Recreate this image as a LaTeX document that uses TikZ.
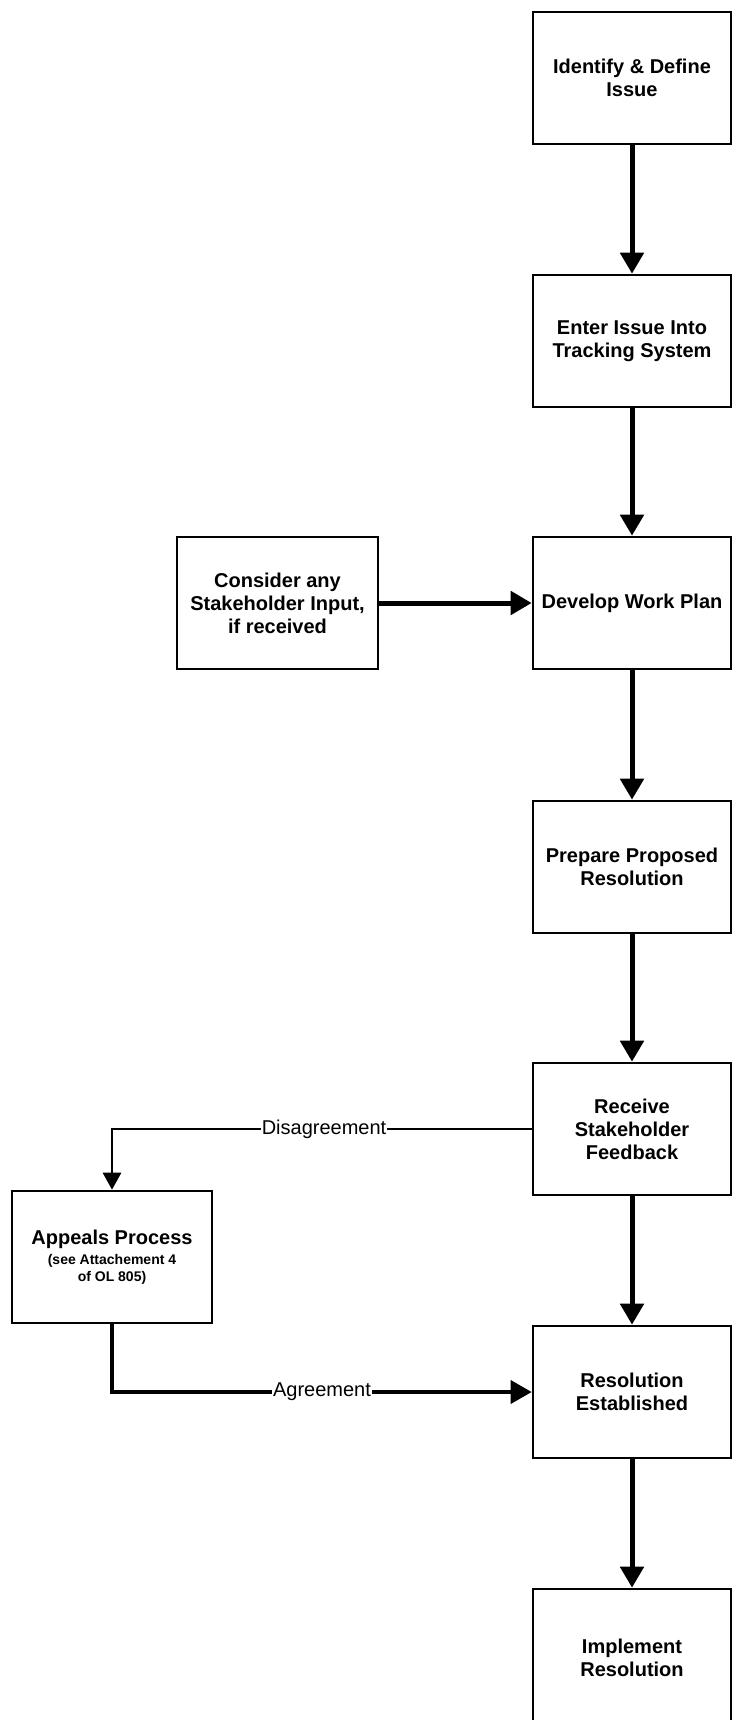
\documentclass[tikz,border=0pt]{standalone}
\usepackage{fontspec}
\setmainfont{Liberation Sans}
\usetikzlibrary{arrows.meta}
\newcommand{\smalltxt}{\fontsize{14}{17}\selectfont}
\tikzset{
  box/.style={draw=black, line width=2.6pt, minimum width=198pt, minimum height=132pt,
    inner sep=0pt, align=center, font=\bfseries\fontsize{20}{23}\selectfont},
  thickarrow/.style={line width=5pt, -{Triangle[length=21pt,width=23pt]}},
  thinarrow/.style={line width=2.8pt, -{Triangle[length=17pt,width=18pt]}},
  midarrow/.style={line width=3.6pt, -{Triangle[length=21pt,width=23pt]}},
  lbl/.style={fill=white, inner xsep=1pt, inner ysep=2pt, font=\fontsize{20}{23}\selectfont},
}
\begin{document}
\begin{tikzpicture}[x=1pt,y=-1pt]
\useasboundingbox (0,0) rectangle (732,1720);
\node[box] (n1) at (632,78) {Identify \& Define\\Issue};
\node[box] (n2) at (632,341) {Enter Issue Into\\Tracking System};
\node[box] (n3) at (632,603) {Develop Work Plan};
\node[box] (n4) at (632,867) {Prepare Proposed\\Resolution};
\node[box] (n5) at (632,1129) {Receive\\Stakeholder\\Feedback};
\node[box] (n6) at (632,1392) {Resolution\\Established};
\node[box, minimum height=138pt] (n7) at (632,1658) {Implement\\Resolution};
\node[box, minimum width=201pt] (cs) at (277.5,603) {Consider any\\Stakeholder Input,\\if received};
\node[box, minimum width=200pt, minimum height=132pt] (ap) at (112,1257)
  {Appeals Process\\[-3pt]\smalltxt (see Attachement 4\\[-6pt]\smalltxt of OL 805)};
\draw[thickarrow] (n1) -- (n2);
\draw[thickarrow] (n2) -- (n3);
\draw[thickarrow] (n3) -- (n4);
\draw[thickarrow] (n4) -- (n5);
\draw[thickarrow] (n5) -- (n6);
\draw[thickarrow] (n6) -- (n7);
\draw[thickarrow] (cs) -- (n3);
\draw[thinarrow] (n5.west) -| (ap.north);
\node[lbl] (dl) at (324,1129) {Disagreement};
\draw[midarrow] (ap.south) |- (n6.west);
\node[lbl] (al) at (322,1392) {Agreement};
\end{tikzpicture}
\end{document}
